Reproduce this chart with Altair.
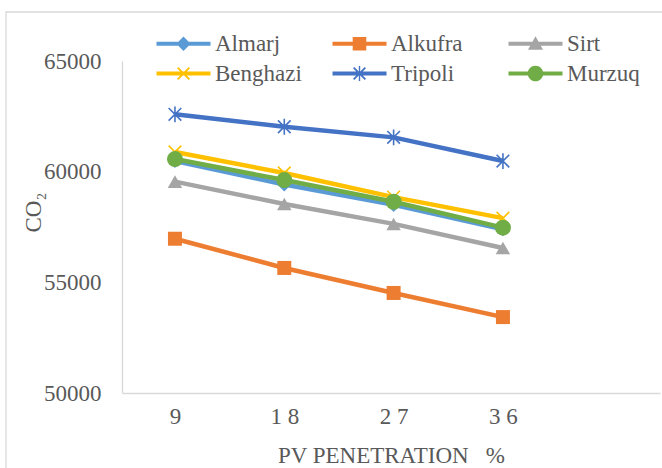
import altair as alt
import pandas as pd

pv = [9, 18, 27, 36]
series = ["Almarj", "Alkufra", "Sirt", "Benghazi", "Tripoli", "Murzuq"]
almarj = [60480, 59420, 58500, 57400]
alkufra = [56970, 55650, 54520, 53430]
sirt = [59550, 58540, 57640, 56550]
benghazi = [60890, 59940, 58850, 57900]
tripoli = [62590, 62030, 61550, 60480]
murzuq = [60570, 59620, 58640, 57470]
values = [almarj, alkufra, sirt, benghazi, tripoli, murzuq]
colors = ["#5B9BD5", "#ED7D31", "#A5A5A5", "#FFC000", "#4472C4", "#70AD47"]
y_ticks = [50000, 55000, 60000, 65000]

rows = []
for s, vals in zip(series, values):
    for x, v in zip(pv, vals):
        rows.append({"series": s, "pv": x, "co2": v})
df = pd.DataFrame(rows)

FONT = "Liberation Serif"
TXT = "#595959"
GRID = "#d9d9d9"

x_enc = alt.X("pv:Q", scale=alt.Scale(domain=[4.64, 48.93], nice=False, zero=False),
              axis=alt.Axis(values=pv, grid=False, ticks=False, domainColor=GRID, domainWidth=1.3,
                            labelFont=FONT, labelFontSize=23, labelColor=TXT, labelPadding=12,
                            labelExpr="join(split(datum.label, ''), ' ')",
                            title="PV PENETRATION\u00a0\u00a0\u00a0%", titleFont=FONT, titleFontSize=23,
                            titleFontWeight="normal", titleColor=TXT, titlePadding=16))
y_enc = alt.Y("co2:Q", scale=alt.Scale(domain=[50000, 65000], nice=False, zero=False),
              axis=alt.Axis(values=y_ticks, format="d", grid=False, ticks=False, domainColor=GRID,
                            domainWidth=1.3, labelFont=FONT, labelFontSize=23, labelColor=TXT,
                            labelPadding=21, title="CO\u2082", titleFont=FONT, titleFontSize=23,
                            titleFontWeight="normal", titleColor=TXT, titleX=-89, titleY=151,
                            titleBaseline="middle"))

base = alt.Chart(df)

# marker styles per series: (shape, filled, size)
X_PATH = "M-1,-1L1,1M1,-1L-1,1"
AST_PATH = "M-1,-1L1,1M1,-1L-1,1M0,-1.25L0,1.25"
markers = [
    ("diamond", True, 200),
    ("square", True, 196),
    ("triangle-up", True, 210),
    (X_PATH, False, 160),
    (AST_PATH, False, 160),
    ("circle", True, 256),
]

frame = alt.Chart(pd.DataFrame({"a": [0]})).mark_rect(
    filled=False, stroke=GRID, strokeWidth=1.3
).encode(x=alt.value(-116), x2=alt.value(700), y=alt.value(-49), y2=alt.value(600))

layers = [frame]
for s, c, (shp, filled, size) in zip(series, colors, markers):
    sub = base.transform_filter(alt.datum.series == s)
    layers.append(sub.mark_line(color=c, strokeWidth=4.5).encode(x=x_enc, y=y_enc))
    if filled:
        layers.append(sub.mark_point(shape=shp, filled=True, color=c, size=size, opacity=1)
                      .encode(x=x_enc, y=y_enc))
    else:
        layers.append(sub.mark_point(shape=shp, filled=False, color=c, size=size, opacity=1,
                                     strokeWidth=1.6).encode(x=x_enc, y=y_enc))

# legend symbols: line + marker as custom paths (unit = 10 px, symbol box 20 px)
LINE = "M-2.7,-0.2H2.7V0.2H-2.7Z"
XB = "M-0.65,-0.52L-0.52,-0.65L0.65,0.52L0.52,0.65ZM0.52,-0.65L0.65,-0.52L-0.52,0.65L-0.65,0.52Z"
legend_paths = [
    LINE + "M0,-0.72L0.72,0L0,0.72L-0.72,0Z",
    LINE + "M-0.68,-0.68H0.68V0.68H-0.68Z",
    LINE + "M0,-0.75L0.75,0.6L-0.75,0.6Z",
    LINE + XB,
    LINE + XB + "M-0.07,-0.75H0.07V0.75H-0.07Z",
    LINE + "M0.78,0A0.78,0.78 0 1,1 -0.78,0A0.78,0.78 0 1,1 0.78,0Z",
]

leg = alt.Legend(title=None, orient="none", legendX=50, legendY=-29, columns=3,
                 direction="horizontal", labelFont="serif", labelFontSize=23, labelColor=TXT,
                 labelFontWeight="normal", labelOffset=20, symbolSize=400, columnPadding=30,
                 rowPadding=6, gridAlign="all", labelLimit=300, symbolStrokeWidth=0, padding=0)

legend_layer = base.transform_filter("datum.co2 < 0").mark_point(filled=True, opacity=1).encode(
    color=alt.Color("series:N", scale=alt.Scale(domain=series, range=colors), legend=leg),
    shape=alt.Shape("series:N", scale=alt.Scale(domain=series, range=legend_paths), legend=leg),
)
layers.append(legend_layer)

chart = alt.layer(*layers).properties(
    width=538, height=332,
    padding={"left": 122, "top": 61, "right": 2, "bottom": 75},
    autosize="none",
).configure(
    font=FONT,
    style={"guide-label": {"font": FONT, "fontSize": 23, "fill": TXT}},
).configure_view(stroke=None)

chart.save("out.html", embed_options={"renderer": "svg", "actions": False})
